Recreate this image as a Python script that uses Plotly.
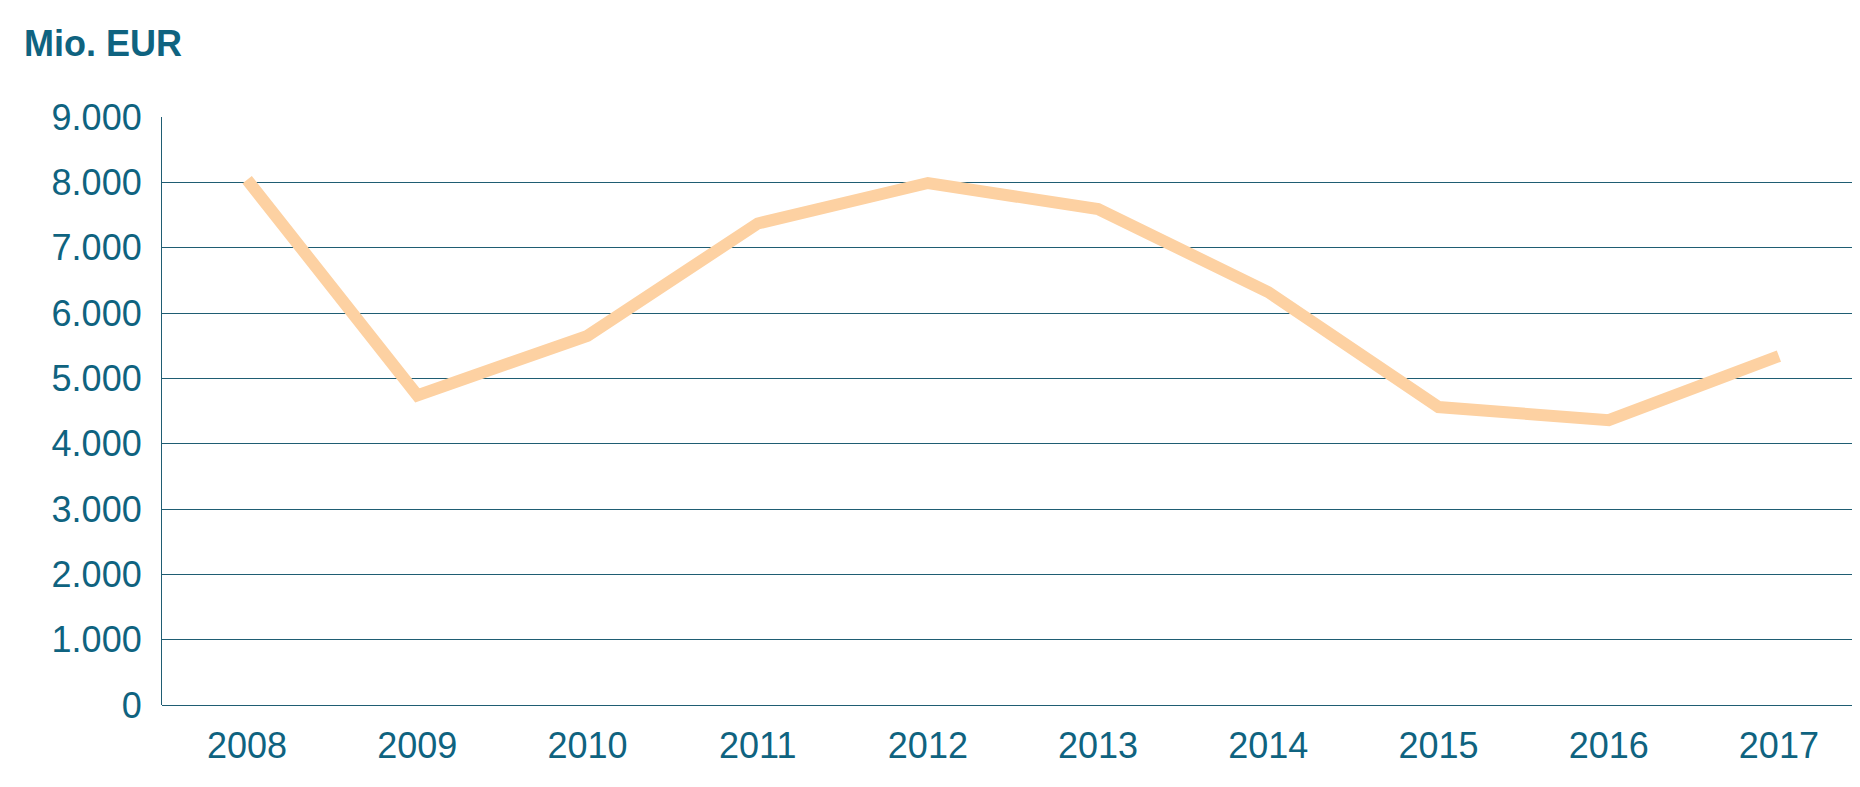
import plotly.graph_objects as go

# Jahreswerte in Mio. EUR
jahre = ["2008", "2009", "2010", "2011", "2012", "2013", "2014", "2015", "2016", "2017"]
werte = [8040, 4740, 5650, 7370, 7990, 7590, 6320, 4560, 4360, 5340]
y_ticks = [0, 1000, 2000, 3000, 4000, 5000, 6000, 7000, 8000, 9000]
y_labels = ["0", "1.000", "2.000", "3.000", "4.000", "5.000", "6.000", "7.000", "8.000", "9.000"]

teal = "#0f6380"
linie = "#1f5d73"

fig = go.Figure(go.Scatter(
    x=jahre, y=werte, mode="lines",
    line=dict(color="#fdd1a2", width=12),
))

fig.update_layout(
    width=1860, height=787,
    paper_bgcolor="white", plot_bgcolor="white",
    margin=dict(l=154, r=4, t=109, b=90, autoexpand=False),
    showlegend=False,
    font=dict(family="Liberation Sans, Arial", color=teal, size=36),
    annotations=[dict(
        text="<b>Mio. EUR</b>", x=0, y=1, xref="paper", yref="paper",
        xanchor="left", yanchor="top", showarrow=False,
        font=dict(size=36, color=teal),
        xshift=-140, yshift=96,
    )],
)
fig.update_xaxes(
    type="category", range=[-0.5, 9.5], showgrid=False, ticks="",
    ticklabelstandoff=16, showline=False, zeroline=False, automargin=False,
)
fig.update_yaxes(
    range=[0, 9000], tickvals=y_ticks, ticktext=y_labels,
    showgrid=True, gridcolor=linie, gridwidth=1.2,
    zeroline=True, zerolinecolor=linie, zerolinewidth=1.2,
    showline=True, linecolor=linie, linewidth=1.2,
    ticks="", ticklabelstandoff=12, automargin=False,
)

fig.write_html("out.html")
